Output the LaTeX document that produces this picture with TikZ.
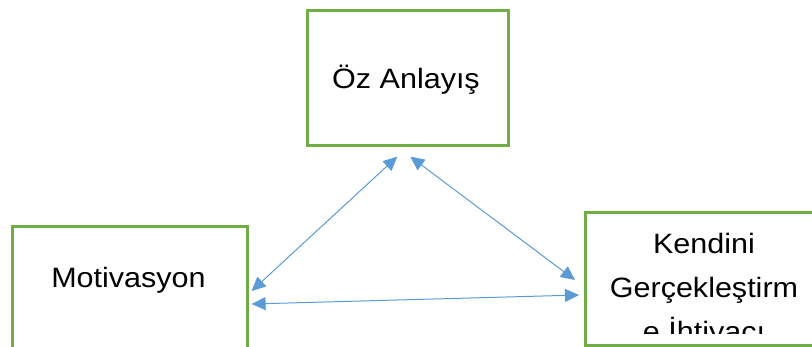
\documentclass[tikz,border=0pt]{standalone}
\usepackage{fontspec}
\setmainfont{Liberation Sans}[FakeStretch=1.09]
\usetikzlibrary{arrows.meta,positioning,calc}
\definecolor{boxgreen}{RGB}{112,173,71}
\definecolor{arrowblue}{RGB}{91,155,213}

\begin{document}
\begin{tikzpicture}[
    x=1pt, y=-1pt,
    box/.style={rectangle, draw=boxgreen, line width=2.6pt, fill=white, inner sep=0pt},
    lbl/.style={font=\fontsize{28}{44}\selectfont, inner sep=0pt, align=center},
    link/.style={{Triangle[length=14pt,width=13pt]}-{Triangle[length=14pt,width=13pt]}, draw=arrowblue, line width=1pt}
  ]
    \useasboundingbox (0,0) rectangle (812,346);
    \clip (0,0) rectangle (812,346);

    % boxes
    \node[box, anchor=north west, minimum width=201, minimum height=135] (oz) at (306,9) {};
    \node[box, anchor=north west, minimum width=235, minimum height=160] (motiv) at (11,225) {};
    \node[box, anchor=north west, minimum width=250, minimum height=133] (kendi) at (584,211) {};

    % texts
    \node[lbl, anchor=base] (oztxt) at (406,88) {Öz Anlayış};
    \node[lbl, anchor=base] (motivtxt) at (128.5,287) {Motivasyon};
    \begin{scope}
      \clip (586,213) rectangle (812,333);
      \node[lbl, anchor=base] (kenditxt) at (704,341) {Kendini\\Gerçekleştirm\\e İhtiyacı};
    \end{scope}

    % connector ends
    \coordinate (ozL) at ($(oz.south)+(-10.5,10)$);
    \coordinate (ozR) at ($(oz.south)+(2.5,10)$);
    \coordinate (motivA) at ($(motiv.north east)+(3,66)$);
    \coordinate (motivB) at ($(motiv.north east)+(3,79)$);
    \coordinate (kendiA) at ($(kendi.north west)+(-9,69)$);
    \coordinate (kendiB) at ($(kendi.north west)+(-5,84)$);

    \draw[link] (ozL) -- (motivA);
    \draw[link] (ozR) -- (kendiA);
    \draw[link] (motivB) -- (kendiB);
  \end{tikzpicture}
\end{document}
